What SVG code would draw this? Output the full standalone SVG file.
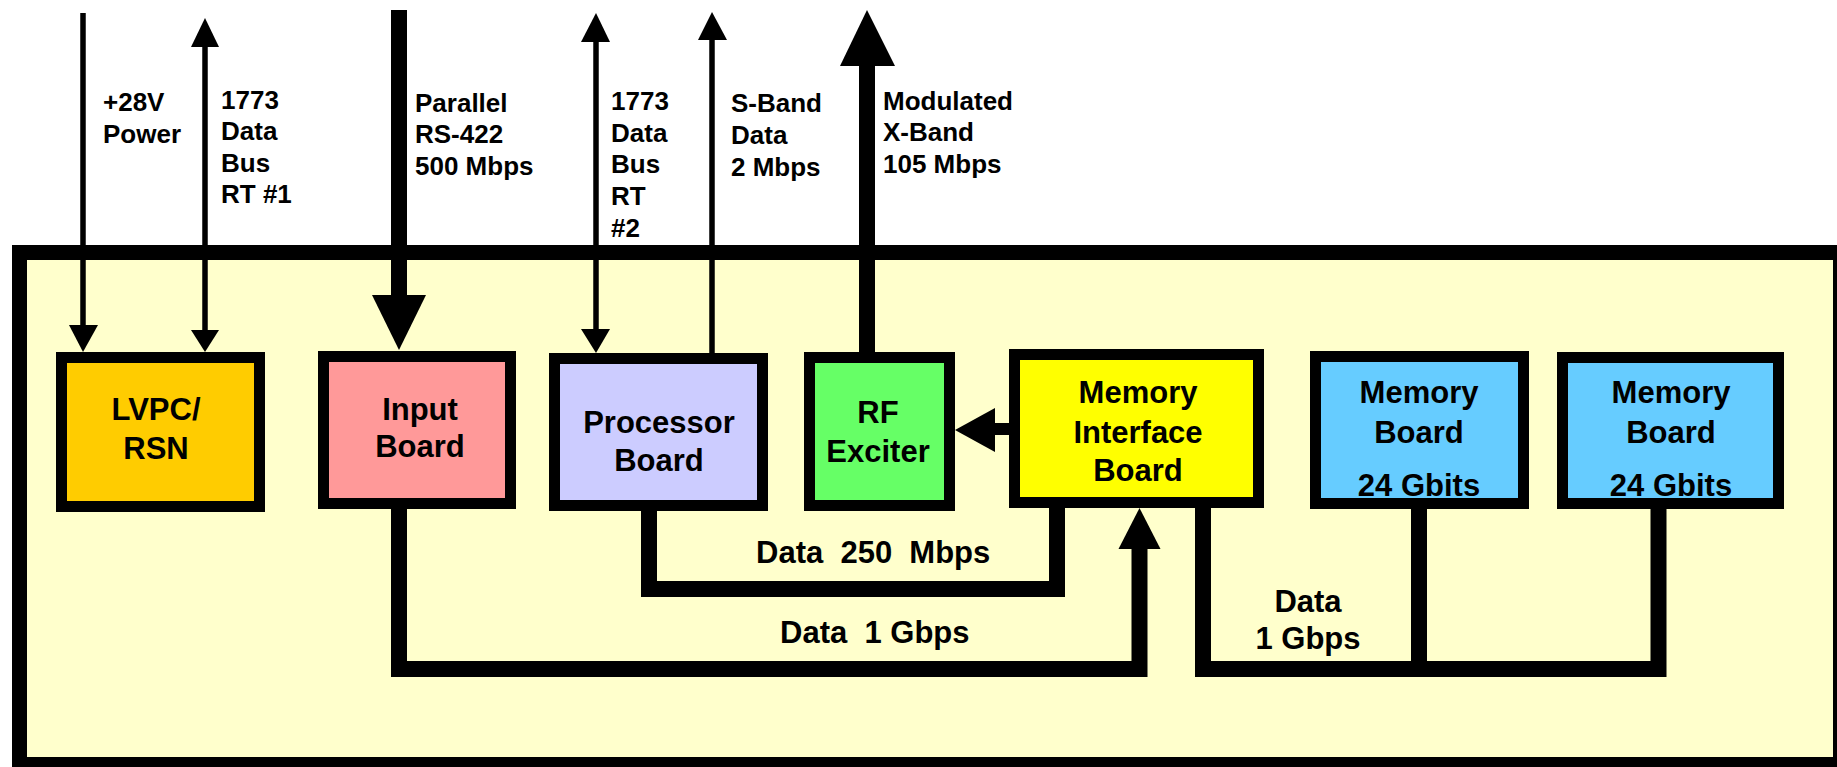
<svg xmlns="http://www.w3.org/2000/svg" width="1837" height="767" viewBox="0 0 1837 767">
<style>
text{font-family:"Liberation Sans",Arial,sans-serif;font-weight:bold;fill:#000}
.lbl{font-size:26px}
.nl{font-size:31px;text-anchor:middle}
.bl{font-size:31px}
.box{stroke:#000;stroke-width:11}
.thin{stroke:#000;stroke-width:5.5;fill:none}
.thick{stroke:#000;stroke-width:16;fill:none;stroke-linejoin:miter}
.head{fill:#000}
</style>
<rect id="frame" x="19.5" y="252.5" width="1821" height="512" fill="#FFFFCC" stroke="#000" stroke-width="15"/>
<g id="connectors">
  <line class="thin" x1="83" y1="13" x2="83" y2="326"/>
  <polygon class="head" points="69,325 98,325 83,352"/>
  <line class="thin" x1="205" y1="46" x2="205" y2="331"/>
  <polygon class="head" points="205,18 191,47 219,47"/>
  <polygon class="head" points="191,330 219,330 205,352"/>
  <line class="thick" x1="399" y1="10" x2="399" y2="296" stroke-width="15"/>
  <polygon class="head" points="372,295 426,295 399,350"/>
  <line class="thin" x1="596" y1="41" x2="596" y2="330"/>
  <polygon class="head" points="596,13 581,42 610,42"/>
  <polygon class="head" points="581,329 610,329 596,353"/>
  <line class="thin" x1="712" y1="39" x2="712" y2="354"/>
  <polygon class="head" points="712,12 698,40 727,40"/>
  <line class="thick" x1="867" y1="65" x2="867" y2="353"/>
  <polygon class="head" points="867,10 840,66 895,66"/>
  <line x1="994" y1="429" x2="1010" y2="429" stroke="#000" stroke-width="12"/>
  <polygon class="head" points="955,430 995,408 995,452"/>
  <polyline class="thick" points="649,510 649,589 1057,589 1057,507"/>
  <polyline class="thick" points="399,508 399,669 1139.5,669 1139.5,548"/>
  <polygon class="head" points="1118.5,549 1160.5,549 1139.5,508"/>
  <polyline class="thick" points="1203,507 1203,669 1658.5,669 1658.5,508"/>
  <line class="thick" x1="1419" y1="508" x2="1419" y2="669"/>
</g>
<g id="n-lvpc">
  <rect class="box" x="61.5" y="357.5" width="198" height="149" fill="#FFCC00"/>
  <text class="nl" x="156" y="420">LVPC/</text>
  <text class="nl" x="156" y="459">RSN</text>
</g>
<g id="n-input">
  <rect class="box" x="323.5" y="356.5" width="187" height="147" fill="#FF9999"/>
  <text class="nl" x="420" y="420">Input</text>
  <text class="nl" x="420" y="457">Board</text>
</g>
<g id="n-proc">
  <rect class="box" x="554.5" y="358.5" width="208" height="147" fill="#CCCCFF"/>
  <text class="nl" x="659" y="433">Processor</text>
  <text class="nl" x="659" y="471">Board</text>
</g>
<g id="n-rf">
  <rect class="box" x="809.5" y="357.5" width="140" height="148" fill="#66FF66"/>
  <text class="nl" x="878" y="423">RF</text>
  <text class="nl" x="878" y="462">Exciter</text>
</g>
<g id="n-mib">
  <rect class="box" x="1014.5" y="354.5" width="244" height="148" fill="#FFFF00"/>
  <text class="nl" x="1138" y="403">Memory</text>
  <text class="nl" x="1138" y="443">Interface</text>
  <text class="nl" x="1138" y="481">Board</text>
</g>
<g id="n-mb1">
  <rect class="box" x="1315.5" y="356.5" width="208" height="147" fill="#66CCFF"/>
  <text class="nl" x="1419" y="403">Memory</text>
  <text class="nl" x="1419" y="443">Board</text>
  <text class="nl" x="1419" y="496">24 Gbits</text>
</g>
<g id="n-mb2">
  <rect class="box" x="1562.5" y="357.5" width="216" height="146" fill="#66CCFF"/>
  <text class="nl" x="1671" y="403">Memory</text>
  <text class="nl" x="1671" y="443">Board</text>
  <text class="nl" x="1671" y="496">24 Gbits</text>
</g>
<g id="labels">
  <text class="lbl" x="103" y="111">+28V</text>
  <text class="lbl" x="103" y="143">Power</text>
  <text class="lbl" x="221" y="109">1773</text>
  <text class="lbl" x="221" y="140">Data</text>
  <text class="lbl" x="221" y="172">Bus</text>
  <text class="lbl" x="221" y="203">RT #1</text>
  <text class="lbl" x="415" y="112">Parallel</text>
  <text class="lbl" x="415" y="143">RS-422</text>
  <text class="lbl" x="415" y="175">500 Mbps</text>
  <text class="lbl" x="611" y="110">1773</text>
  <text class="lbl" x="611" y="142">Data</text>
  <text class="lbl" x="611" y="173">Bus</text>
  <text class="lbl" x="611" y="205">RT</text>
  <text class="lbl" x="611" y="237">#2</text>
  <text class="lbl" x="731" y="112">S-Band</text>
  <text class="lbl" x="731" y="144">Data</text>
  <text class="lbl" x="731" y="176">2 Mbps</text>
  <text class="lbl" x="883" y="110">Modulated</text>
  <text class="lbl" x="883" y="141">X-Band</text>
  <text class="lbl" x="883" y="173">105 Mbps</text>
  <text class="bl" x="756" y="563" xml:space="preserve">Data  250  Mbps</text>
  <text class="bl" x="780" y="643" xml:space="preserve">Data  1 Gbps</text>
  <text class="bl" x="1308" y="612" text-anchor="middle">Data</text>
  <text class="bl" x="1308" y="649" text-anchor="middle">1 Gbps</text>
</g>
</svg>
